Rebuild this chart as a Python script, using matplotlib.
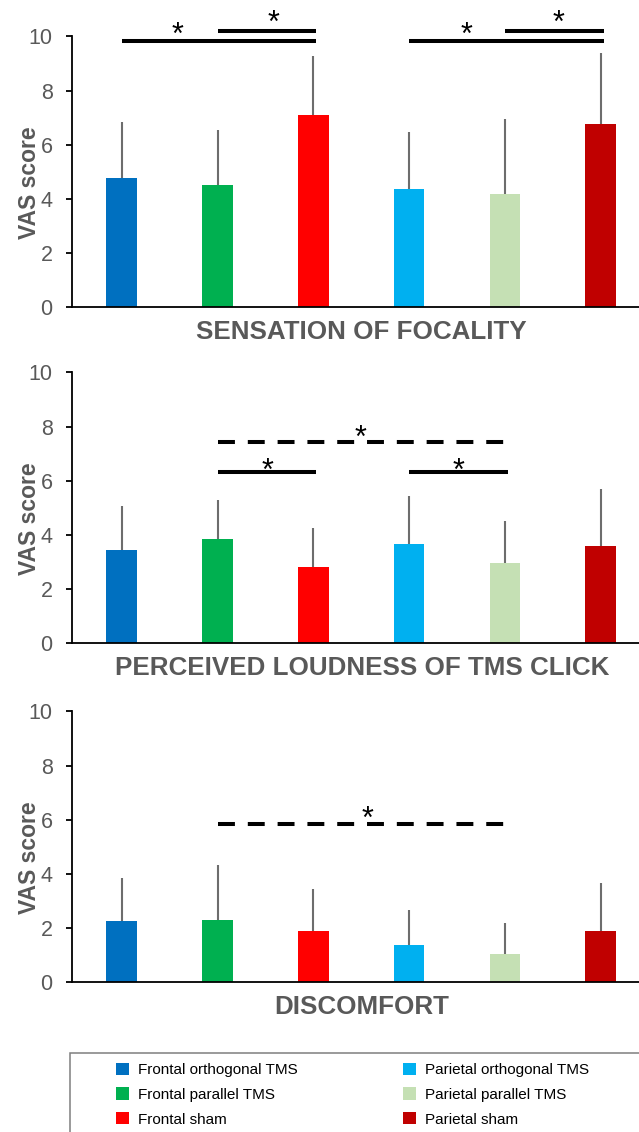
import matplotlib
matplotlib.use('Agg')
from matplotlib import pyplot as plt
from matplotlib.patches import Patch, Rectangle

plt.rcParams['font.family'] = ['Liberation Sans', 'DejaVu Sans']

# conditions, in bar order
conditions = ['Frontal orthogonal TMS', 'Frontal parallel TMS', 'Frontal sham',
              'Parietal orthogonal TMS', 'Parietal parallel TMS', 'Parietal sham']
colors = ['#0070C0', '#00B050', '#FF0000', '#00B0F0', '#C5E0B4', '#C00000']

# mean VAS scores and SD (upper error bar) for each rating
focality_mean = [4.78, 4.52, 7.11, 4.37, 4.19, 6.78]
focality_sd = [2.07, 2.04, 2.15, 2.11, 2.77, 2.59]
loudness_mean = [3.42, 3.83, 2.79, 3.64, 2.94, 3.57]
loudness_sd = [1.64, 1.46, 1.45, 1.81, 1.55, 2.13]
discomfort_mean = [2.24, 2.31, 1.90, 1.35, 1.02, 1.90]
discomfort_sd = [1.60, 2.02, 1.54, 1.30, 1.15, 1.77]

panel_titles = ['SENSATION OF FOCALITY', 'PERCEIVED LOUDNESS OF TMS CLICK', 'DISCOMFORT']

# significance bars: (from bar, to bar, height, dashed)
focality_sig = [(0, 2, 9.83, False), (1, 2, 10.2, False), (3, 5, 9.83, False), (4, 5, 10.2, False)]
loudness_sig = [(1, 4, 7.43, True), (1, 2, 6.31, False), (3, 4, 6.31, False)]
discomfort_sig = [(1, 4, 5.83, True)]
# asterisk positions (x, baseline y)
focality_stars = [(0.58, 9.71), (1.58, 10.15), (3.60, 9.71), (4.56, 10.18)]
loudness_stars = [(2.49, 7.26), (1.52, 6.03), (3.52, 6.01)]
discomfort_stars = [(2.57, 5.70)]

gray = '#595959'

fig = plt.figure(figsize=(6.39, 11.32), dpi=100)
bottoms = [0.7288, 0.4320, 0.1325]
panels = [(focality_mean, focality_sd, focality_sig, focality_stars),
          (loudness_mean, loudness_sd, loudness_sig, loudness_stars),
          (discomfort_mean, discomfort_sd, discomfort_sig, discomfort_stars)]

x = list(range(len(conditions)))
for k, (means, sds, sigs, stars) in enumerate(panels):
    ax = fig.add_axes([0.1127, bottoms[k], 0.8873, 0.2390])
    ax.bar(x, means, width=0.32, color=colors, zorder=2)
    ax.errorbar(x, means, yerr=[[0] * len(sds), sds], fmt='none',
                ecolor='#6d6d6d', elinewidth=1.5, capsize=0, zorder=3)
    for i, j, y, dashed in sigs:
        ls = (0, (4.2, 3.2)) if dashed else '-'
        ax.plot([x[i], x[j] + 0.03], [y, y], color='black', lw=2.9, ls=ls,
                solid_capstyle='butt', dash_capstyle='butt', clip_on=False, zorder=4)
    for sx, sy in stars:
        ax.text(sx, sy, '*', fontsize=22, ha='center', va='baseline', color='black',
                clip_on=False)
    ax.set_xlim(-0.52, 5.40)
    ax.set_ylim(0, 10)
    ax.set_yticks([0, 2, 4, 6, 8, 10])
    ax.set_xticks([])
    for s in ['top', 'right']:
        ax.spines[s].set_visible(False)
    ax.spines['left'].set_linewidth(1.3)
    ax.spines['bottom'].set_linewidth(1.3)
    ax.tick_params(axis='y', direction='out', length=4, width=1.3,
                   labelsize=15.5, labelcolor=gray, pad=10)
    ax.set_ylabel('VAS score', fontsize=16.5, fontweight='bold', color=gray)
    ax.yaxis.set_label_coords(-0.054, 0.46)
    ax.text(0.511, -0.092, panel_titles[k], transform=ax.transAxes, ha='center',
            va='center', fontsize=18.7, fontweight='bold', color=gray)

# legend box
fig.add_artist(Rectangle((0.1095, -0.05), 1.0, 0.1198, transform=fig.transFigure,
                         fill=False, edgecolor='#7f7f7f', lw=1.1, clip_on=False))
handles = [Patch(facecolor=c, edgecolor='none') for c in colors]
fig.legend(handles, conditions, loc='upper left',
           bbox_to_anchor=(0.169, 0.068), ncol=2, frameon=False, fontsize=11,
           borderpad=0, handlelength=0.85, handleheight=0.85, handletextpad=0.6,
           labelspacing=0.68, columnspacing=6.9)

fig.savefig('out.png', dpi=100)
